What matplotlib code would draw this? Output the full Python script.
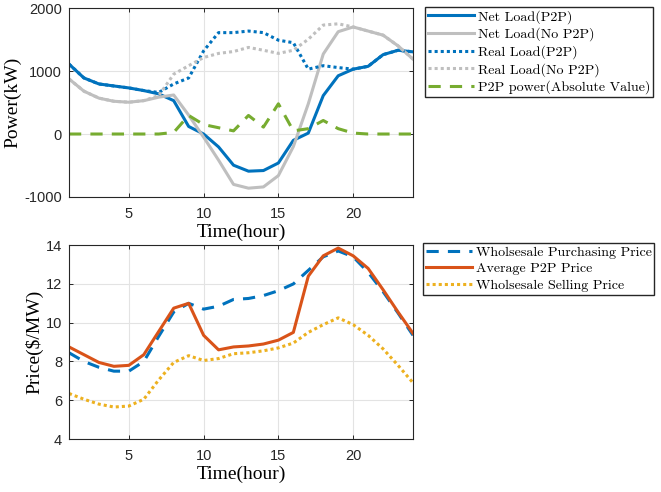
import matplotlib.pyplot as plt
import numpy as np

hours = np.arange(1, 25)

# power (kW)
net_p2p = [1110, 890, 795, 763, 732, 690, 637, 530, 120, 0, -205, -495,
           -590, -580, -460, -100, 15, 610, 925, 1030, 1075, 1260, 1330, 1305]
net_nop2p = [875, 680, 570, 520, 505, 530, 585, 620, 300, -50, -415, -800,
             -860, -840, -660, -200, 480, 1270, 1625, 1700, 1635, 1570, 1400, 1190]
real_p2p = [1110, 890, 795, 763, 732, 690, 660, 795, 890, 1320, 1610, 1610,
            1635, 1610, 1490, 1450, 1030, 1085, 1055, 1030, 1075, 1260, 1330, 1305]
real_nop2p = [875, 680, 570, 520, 505, 530, 610, 950, 1085, 1215, 1280, 1310,
              1375, 1330, 1280, 1330, 1505, 1730, 1750, 1700, 1635, 1570, 1400, 1190]
p2p_power = [0, 0, 0, 0, 0, 0, 0, 25, 295, 150, 100, 50,
             295, 110, 480, 50, 85, 215, 85, 15, 0, 0, 0, 0]

# price ($/MW)
buy_price = [8.45, 8.0, 7.7, 7.5, 7.5, 8.0, 9.3, 10.55, 11.0, 10.7, 10.85, 11.2,
             11.25, 11.4, 11.65, 12.0, 12.7, 13.4, 13.7, 13.4, 12.6, 11.6, 10.5, 9.35]
p2p_price = [8.75, 8.35, 7.95, 7.75, 7.8, 8.35, 9.55, 10.75, 11.0, 9.35, 8.6, 8.75,
             8.8, 8.9, 9.1, 9.5, 12.4, 13.45, 13.85, 13.45, 12.8, 11.7, 10.55, 9.45]
sell_price = [6.35, 6.05, 5.8, 5.65, 5.7, 6.05, 7.05, 7.95, 8.3, 8.05, 8.15, 8.4,
              8.45, 8.55, 8.7, 8.95, 9.5, 9.9, 10.25, 9.9, 9.35, 8.65, 7.8, 6.9]

blue = '#0072BD'
gray = '#BFBFBF'
green = '#77AC30'
orange = '#D95319'
yellow = '#EDB120'

plt.rcParams['font.family'] = 'Liberation Sans'
plt.rcParams['axes.unicode_minus'] = False
plt.rcParams['xtick.direction'] = 'in'
plt.rcParams['ytick.direction'] = 'in'
plt.rcParams['xtick.top'] = True
plt.rcParams['ytick.right'] = True

fig = plt.figure(figsize=(6.61, 4.92), dpi=100)
ax1 = fig.add_axes([0.1044, 0.5996, 0.5204, 0.384])
ax2 = fig.add_axes([0.1044, 0.1077, 0.5204, 0.394])

lfont = {'family': 'cmr10', 'size': 10.1}
afont = {'family': 'Liberation Serif', 'size': 14}
leg_kw = dict(bbox_transform=fig.transFigure, prop=lfont, borderaxespad=0,
              fancybox=False, edgecolor='#262626', framealpha=1, loc='upper left',
              handlelength=3.3, handletextpad=0.25, labelspacing=0.28, borderpad=0.2)

ax1.plot(hours, net_p2p, color=blue, lw=2.2, label='Net Load(P2P)')
ax1.plot(hours, net_nop2p, color=gray, lw=2.2, label='Net Load(No P2P)')
ax1.plot(hours, real_p2p, color=blue, lw=2.2, ls=(0, (1, 1)), label='Real Load(P2P)')
ax1.plot(hours, real_nop2p, color=gray, lw=2.2, ls=(0, (1, 1)), label='Real Load(No P2P)')
ax1.plot(hours, p2p_power, color=green, lw=2.2, ls=(0, (4, 3)), label='P2P power(Absolute Value)')
ax1.set_xlim(1, 24)
ax1.set_ylim(-1000, 2000)
ax1.set_xticks([5, 10, 15, 20])
ax1.set_yticks([-1000, 0, 1000, 2000])
ax1.set_xlabel('Time(hour)', fontdict=afont, labelpad=2)
ax1.set_ylabel('Power(kW)', fontdict=afont, labelpad=2)
ax1.legend(bbox_to_anchor=(425 / 661, 1 - 7 / 492), **leg_kw)

ax2.plot(hours, buy_price, color=blue, lw=2.2, ls=(0, (4, 3)), label='Wholsesale Purchasing Price')
ax2.plot(hours, p2p_price, color=orange, lw=2.2, label='Average P2P Price')
ax2.plot(hours, sell_price, color=yellow, lw=2.2, ls=(0, (1, 1)), label='Wholsesale Selling Price')
ax2.set_xlim(1, 24)
ax2.set_ylim(4, 14)
ax2.set_xticks([5, 10, 15, 20])
ax2.set_yticks([4, 6, 8, 10, 12, 14])
ax2.set_xlabel('Time(hour)', fontdict=afont, labelpad=2)
ax2.set_ylabel('Price($/MW)', fontdict=afont, labelpad=2)
ax2.legend(bbox_to_anchor=(423 / 661, 1 - 243 / 492), **leg_kw)

for ax in (ax1, ax2):
    ax.grid(True, color='#E3E3E3', lw=0.8)
    ax.tick_params(labelsize=10.5, length=3, width=0.7, colors='#262626')
    ax.tick_params(axis='x', pad=7)
    ax.tick_params(axis='y', pad=5)
    for s in ax.spines.values():
        s.set_color('#262626')
        s.set_linewidth(0.8)

fig.savefig('out.png', dpi=100)
